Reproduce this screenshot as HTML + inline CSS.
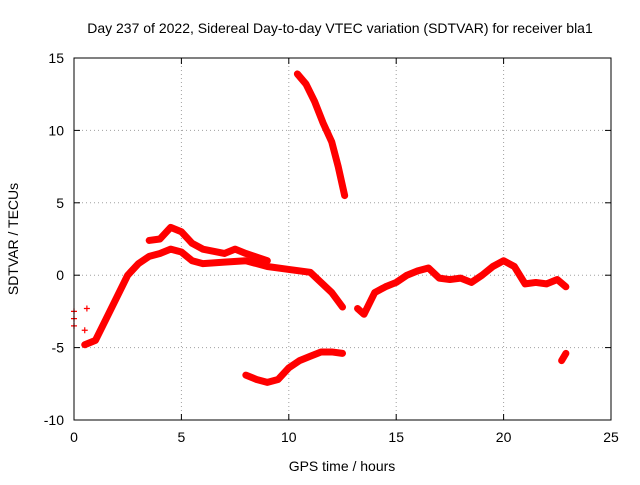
<!DOCTYPE html>
<html><head><meta charset="utf-8"><style>
body{margin:0;background:#fff}
svg text{font-family:"Liberation Sans",sans-serif;font-size:14px;fill:#000}
</style></head><body>
<svg width="640" height="480">
<text x="340" y="33" text-anchor="middle">Day 237 of 2022, Sidereal Day-to-day VTEC variation (SDTVAR) for receiver bla1</text>
<g id="grid"></g>
<g id="ticks"></g>
<g id="marks"></g>
<rect x="74" y="58" width="537" height="362" fill="none" stroke="#000"/>
<text x="342" y="471" text-anchor="middle">GPS time / hours</text>
<text transform="translate(18,239) rotate(-90)" text-anchor="middle">SDTVAR / TECUs</text>
</svg>
<script>
const xTicks=[0,5,10,15,20,25];
const yTicks=[-10,-5,0,5,10,15];
const trackSteep=[[10.4,13.9],[10.8,13.2],[11.2,12],[11.6,10.5],[12,9.2],[12.3,7.5],[12.6,5.5]];
const trackLow=[[8,-6.9],[8.5,-7.2],[9,-7.4],[9.5,-7.2],[10,-6.4],[10.5,-5.9],[11,-5.6],[11.5,-5.3],[12,-5.3],[12.5,-5.4]];
const trackMain=[[0.5,-4.8],[1,-4.5],[1.5,-3],[2,-1.5],[2.5,0],[3,0.8],[3.5,1.3],[4,1.5],[4.5,1.8],[5,1.6],[5.5,1.0],[6,0.8],[7,0.9],[8,1.0],[9,0.6],[10,0.4],[11,0.2],[11.5,-0.5],[12,-1.2],[12.5,-2.2]];
const trackUpper=[[3.5,2.4],[4,2.5],[4.5,3.3],[5,3.0],[5.5,2.2],[6,1.8],[7,1.5],[7.5,1.8],[8,1.5],[9,1.0]];
const trackLate=[[13.2,-2.3],[13.5,-2.7],[14,-1.2],[14.5,-0.8],[15,-0.5],[15.5,0],[16,0.3],[16.5,0.5],[17,-0.2],[17.5,-0.3],[18,-0.2],[18.5,-0.5],[19,0],[19.5,0.6],[20,1.0],[20.5,0.6],[21,-0.6],[21.5,-0.5],[22,-0.6],[22.5,-0.3],[22.9,-0.8]];
const trackEnd=[[22.7,-5.9],[22.9,-5.4]];
const strays=[[0,-3],[0,-3.5],[0,-2.5],[0.6,-2.3],[0.5,-3.8]];
const X=v=>74+v*537/25, Y=v=>275.2-v*362/25;
const NS="http://www.w3.org/2000/svg";
function mk(t,a,p){const e=document.createElementNS(NS,t);for(const k in a)e.setAttribute(k,a[k]);p.appendChild(e);return e;}
const grid=document.getElementById('grid'),ticks=document.getElementById('ticks'),marks=document.getElementById('marks');
xTicks.forEach(t=>{const x=X(t);
 if(t>0&&t<25){const l=mk('line',{x1:x,x2:x,y1:58,y2:420,stroke:'#a0a0a0','stroke-dasharray':'1,3'},grid);}
 mk('line',{x1:x,x2:x,y1:420,y2:414,stroke:'#000'},ticks);mk('line',{x1:x,x2:x,y1:58,y2:64,stroke:'#000'},ticks);
 const tx=mk('text',{x:x,y:442,'text-anchor':'middle'},ticks);tx.textContent=t;});
yTicks.forEach(t=>{const y=Y(t);
 if(t>-10&&t<15){const l=mk('line',{x1:74,x2:611,y1:y,y2:y,stroke:'#a0a0a0','stroke-dasharray':'1,3'},grid);}
 mk('line',{x1:74,x2:80,y1:y,y2:y,stroke:'#000'},ticks);mk('line',{x1:611,x2:605,y1:y,y2:y,stroke:'#000'},ticks);
 const tx=mk('text',{x:64,y:y+5,'text-anchor':'end'},ticks);tx.textContent=t;});
function plus(x,y){mk('path',{d:`M${x-3},${y}h6M${x},${y-3}v6`,stroke:'#f00','stroke-width':1.2},marks);}
[trackSteep,trackLow,trackMain,trackUpper,trackLate,trackEnd].forEach(tr=>{
 const p=mk('polyline',{points:tr.map(d=>X(d[0])+','+Y(d[1])).join(' '),fill:'none',stroke:'#f00','stroke-width':7,'stroke-linejoin':'round','stroke-linecap':'round'},marks);
 
 tr.forEach(d=>plus(X(d[0]),Y(d[1])));});
strays.forEach(d=>plus(X(d[0]),Y(d[1])));
</script>
</body></html>
